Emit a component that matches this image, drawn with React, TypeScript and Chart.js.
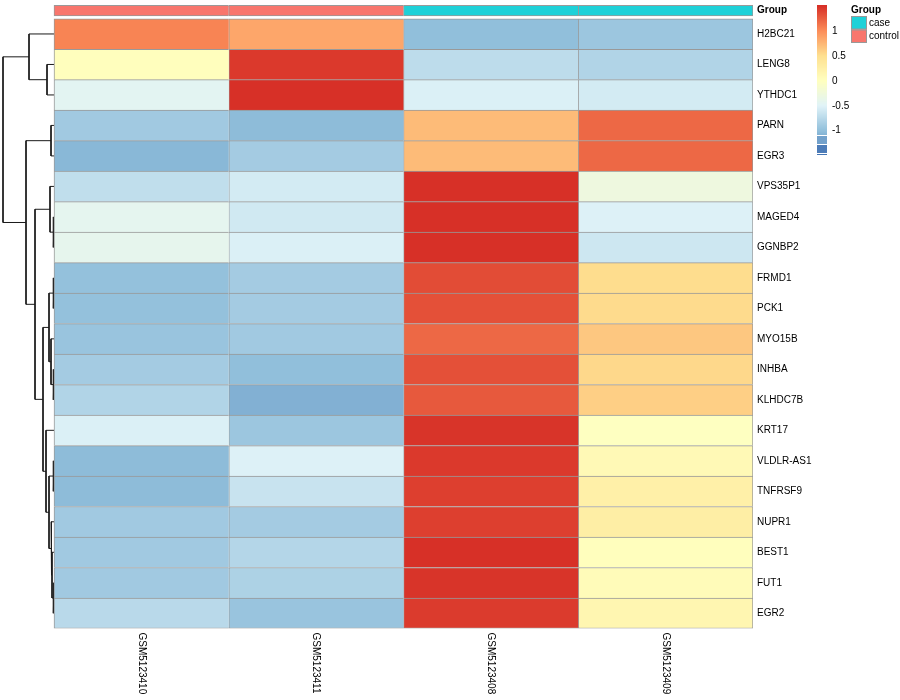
import React, { useEffect, useRef } from "react";
import { Chart, registerables } from "chart.js";

Chart.register(...registerables);

// ---------- data ----------
const genes = [
  "H2BC21", "LENG8", "YTHDC1", "PARN", "EGR3", "VPS35P1", "MAGED4", "GGNBP2",
  "FRMD1", "PCK1", "MYO15B", "INHBA", "KLHDC7B", "KRT17", "VLDLR-AS1",
  "TNFRSF9", "NUPR1", "BEST1", "FUT1", "EGR2",
];
const samples = ["GSM5123410", "GSM5123411", "GSM5123408", "GSM5123409"];
const sampleGroup = ["control", "control", "case", "case"];
const groupNames = ["case", "control"];
const groupColors = ["#1ED1D8", "#F8766D"];

// row-scaled expression (z-score) per sample, in gene order
const gsm5123410 = [1.05, 0.02, -0.45, -0.9, -1.05, -0.7, -0.42, -0.4, -0.98, -0.98, -0.95, -0.88, -0.8, -0.53, -1.02, -1.02, -0.9, -0.9, -0.9, -0.75];
const gsm5123411 = [0.85, 1.45, 1.5, -1.02, -0.88, -0.58, -0.6, -0.53, -0.88, -0.88, -0.9, -1.0, -1.1, -0.93, -0.52, -0.65, -0.88, -0.78, -0.82, -0.95];
const gsm5123408 = [-1.0, -0.72, -0.53, 0.72, 0.72, 1.5, 1.5, 1.5, 1.35, 1.33, 1.2, 1.33, 1.28, 1.48, 1.45, 1.42, 1.42, 1.5, 1.48, 1.44];
const gsm5123409 = [-0.93, -0.8, -0.58, 1.2, 1.2, -0.28, -0.52, -0.62, 0.52, 0.53, 0.65, 0.55, 0.6, -0.02, 0.1, 0.25, 0.28, 0.02, 0.06, 0.15];
const sampleValues = [gsm5123410, gsm5123411, gsm5123408, gsm5123409];

// row dendrogram (hclust style: negative = leaf row (1-based), positive = earlier merge)
const mergeLeft = [-2, -1, -4, -7, -6, -9, -12, -11, 6, -15, -19, -18, -17, 10, -14, 9, 5, 3, 2];
const mergeRight = [-3, 1, -5, -8, 4, -10, -13, 7, 8, -16, -20, 11, 12, 13, 14, 15, 16, 17, 18];
const mergeHeight = [7, 25, 3, 1, 4, 1, 1, 3, 5, 1, 1, 2, 3, 5, 8, 11, 19, 28, 51];

// colour scale
const paletteColors = ["#4575B4", "#91BFDB", "#E0F3F8", "#FFFFBF", "#FEE090", "#FC8D59", "#D73027"];
const scaleMin = -1.5;
const scaleMax = 1.5;
const legendTicks = [1, 0.5, 0, -0.5, -1];
const legendTickLabels = ["1", "0.5", "0", "-0.5", "-1"];

// ---------- helpers ----------
const FONT = '"Liberation Sans", Arial, Helvetica, sans-serif';
const paletteRgb = paletteColors.map((h) => {
  const n = parseInt(h.slice(1), 16);
  return [(n >> 16) & 255, (n >> 8) & 255, n & 255];
});
function colorFor(v: number): string {
  const t = Math.max(0, Math.min(1, (v - scaleMin) / (scaleMax - scaleMin))) * (paletteRgb.length - 1);
  const i = Math.min(Math.floor(t), paletteRgb.length - 2);
  const f = t - i;
  const a = paletteRgb[i];
  const b = paletteRgb[i + 1];
  const c = a.map((x, k) => Math.round(x + (b[k] - x) * f));
  return `rgb(${c[0]},${c[1]},${c[2]})`;
}

const ANN_TOP = -0.44;
const ANN_BOTTOM = -0.09;
const DENDRO_WIDTH = 51 / 174.75; // in column units
const GRID = "#999999";

function buildDendro() {
  const maxH = Math.max(...mergeHeight);
  const k = DENDRO_WIDTH / maxH;
  const nodeX: number[] = [];
  const nodeY: number[] = [];
  const pos = (id: number) =>
    id < 0 ? { x: 0, y: -id - 1 + 0.5 } : { x: nodeX[id - 1], y: nodeY[id - 1] };
  const sets: any[] = [];
  for (let i = 0; i < mergeHeight.length; i++) {
    const l = pos(mergeLeft[i]);
    const r = pos(mergeRight[i]);
    const x = -mergeHeight[i] * k;
    nodeX.push(x);
    nodeY.push((l.y + r.y) / 2);
    sets.push({
      type: "line",
      data: [
        { x: l.x, y: l.y },
        { x, y: l.y },
        { x, y: r.y },
        { x: r.x, y: r.y },
      ],
      borderColor: "#1a1a1a",
      borderWidth: 1,
      pointRadius: 0,
      fill: false,
      tension: 0,
      xAxisID: "x",
      yAxisID: "y",
    });
  }
  return sets;
}

const labelPlugin = {
  id: "heatLabels",
  afterDraw(chart: any) {
    const { ctx, chartArea, scales } = chart;
    const xs = scales.x;
    const ys = scales.y;
    ctx.save();
    ctx.fillStyle = "#000";
    ctx.font = `10px ${FONT}`;
    ctx.textBaseline = "middle";
    ctx.textAlign = "left";
    // row labels
    genes.forEach((g, r) => {
      ctx.fillText(g, chartArea.right + 4, ys.getPixelForValue(r + 0.5));
    });
    // annotation label
    ctx.font = `bold 10px ${FONT}`;
    ctx.fillText("Group", chartArea.right + 4, ys.getPixelForValue((ANN_TOP + ANN_BOTTOM) / 2));
    // column labels (rotated, reading downward)
    ctx.font = `10px ${FONT}`;
    samples.forEach((s, c) => {
      ctx.save();
      ctx.translate(xs.getPixelForValue(c + 0.5), chartArea.bottom + 4);
      ctx.rotate(Math.PI / 2);
      ctx.textAlign = "left";
      ctx.textBaseline = "middle";
      ctx.fillText(s, 0, 0);
      ctx.restore();
    });

    // colour legend
    const lx = 817;
    const lw = 10;
    const ly = (v: number) => 80.85 - v * 49.85;
    for (let py = 5; py < 135; py++) {
      const v = (80.85 - (py + 0.5)) / 49.85;
      ctx.fillStyle = colorFor(v);
      ctx.fillRect(lx, py, lw, 1);
    }
    ctx.fillStyle = colorFor(-1.2);
    ctx.fillRect(lx, 136, lw, 8);
    ctx.fillStyle = colorFor(-1.45);
    ctx.fillRect(lx, 145, lw, 8);
    ctx.fillStyle = colorFor(-1.5);
    ctx.fillRect(lx, 154, lw, 1);
    ctx.fillStyle = "#000";
    ctx.font = `10px ${FONT}`;
    legendTicks.forEach((t, i) => {
      ctx.fillText(legendTickLabels[i], 832, ly(t));
    });

    // group legend
    ctx.font = `bold 10px ${FONT}`;
    ctx.fillText("Group", 851, 10);
    ctx.font = `10px ${FONT}`;
    groupNames.forEach((g, i) => {
      const by = 16 + i * 13.5;
      ctx.fillStyle = groupColors[i];
      ctx.fillRect(851, by, 16, 13.5);
      ctx.strokeStyle = GRID;
      ctx.lineWidth = 1;
      ctx.strokeRect(851.5, by + 0.5, 15, 12.5);
      ctx.fillStyle = "#000";
      ctx.fillText(g, 869, by + 7);
    });
    ctx.restore();
  },
};

export default function App() {
  const canvasRef = useRef<HTMLCanvasElement | null>(null);

  useEffect(() => {
    if (!canvasRef.current) return;
    const nCols = samples.length;
    const nRows = genes.length;

    const cellSets = sampleValues.map((vals, c) => ({
      type: "bar",
      label: samples[c],
      data: vals.map((_, r) => ({ x: c + 0.5, y: [r, r + 1] })),
      backgroundColor: vals.map((v) => colorFor(v)),
      borderColor: GRID,
      borderWidth: (ctx: any) => ({
        top: 1,
        left: 1,
        right: c === nCols - 1 ? 1 : 0,
        bottom: ctx.dataIndex === nRows - 1 ? 1 : 0,
      }),
      borderSkipped: false,
      grouped: false,
      barPercentage: 1,
      categoryPercentage: 1,
      xAxisID: "x",
      yAxisID: "y",
    }));

    const annSet = {
      type: "bar",
      label: "Group",
      data: samples.map((_, c) => ({ x: c + 0.5, y: [ANN_TOP, ANN_BOTTOM] })),
      backgroundColor: sampleGroup.map((g) => groupColors[groupNames.indexOf(g)]),
      borderColor: GRID,
      borderWidth: (ctx: any) => ({
        top: 1,
        bottom: 1,
        left: 1,
        right: ctx.dataIndex === nCols - 1 ? 1 : 0,
      }),
      borderSkipped: false,
      grouped: false,
      barPercentage: 1,
      categoryPercentage: 1,
      xAxisID: "x",
      yAxisID: "y",
    };

    const chart = new Chart(canvasRef.current, {
      type: "bar",
      data: { datasets: [...cellSets, annSet, ...buildDendro()] as any },
      options: {
        animation: false,
        responsive: true,
        maintainAspectRatio: false,
        layout: { padding: { left: 2, right: 147, top: 5, bottom: 71.5 } },
        plugins: { legend: { display: false }, tooltip: { enabled: false } },
        scales: {
          x: {
            type: "linear",
            offset: false,
            min: -52 / 174.75,
            max: 4,
            display: false,
            grid: { offset: false },
            afterBuildTicks: (s: any) => {
              s.ticks = [0, 1, 2, 3, 4].map((value) => ({ value }));
            },
          },
          y: {
            type: "linear",
            offset: false,
            min: -0.45,
            max: 20,
            reverse: true,
            display: false,
          },
        },
      } as any,
      plugins: [labelPlugin],
    });
    return () => chart.destroy();
  }, []);

  return (
    <div style={{ position: "fixed", left: 0, top: 0, width: 900, height: 700, background: "#fff" }}>
      <canvas ref={canvasRef} />
    </div>
  );
}
